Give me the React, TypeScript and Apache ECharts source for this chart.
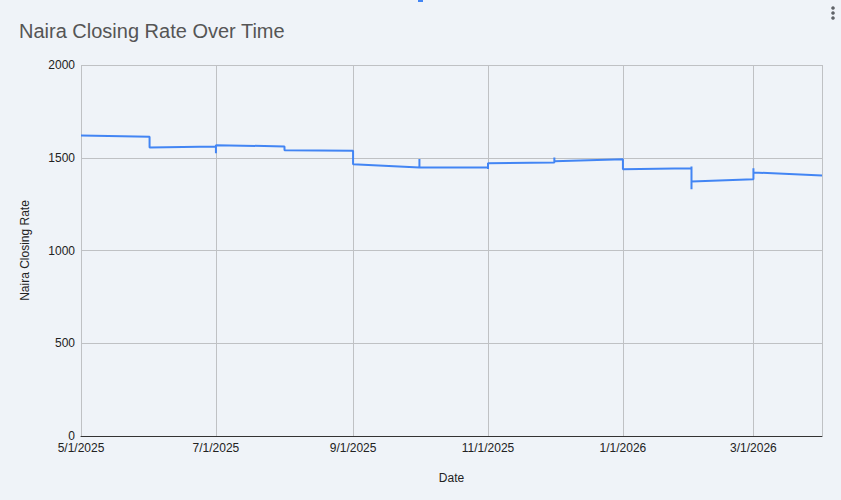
import React, { useEffect, useRef } from "react";
import * as echarts from "echarts";

const titleText = "Naira Closing Rate Over Time";
const xAxisName = "Date";
const yAxisName = "Naira Closing Rate";

// Observations (repeated dates form the vertical steps at month starts)
const dates = [
  "2025-05-01", "2025-06-01", "2025-06-01",
  "2025-07-01", "2025-07-01", "2025-07-01",
  "2025-08-01", "2025-08-01",
  "2025-09-01", "2025-09-01",
  "2025-10-01", "2025-10-01", "2025-10-01",
  "2025-11-01", "2025-11-01", "2025-11-01",
  "2025-12-01", "2025-12-01", "2025-12-01",
  "2026-01-01", "2026-01-01",
  "2026-02-01", "2026-02-01", "2026-02-01", "2026-02-01",
  "2026-03-01", "2026-03-01", "2026-03-01",
  "2026-04-01",
];
const rates = [
  1620, 1613, 1555,
  1561, 1524, 1568,
  1561, 1540,
  1538, 1465,
  1447, 1493, 1447,
  1447, 1440, 1470,
  1474, 1502, 1481,
  1492, 1438,
  1444, 1453, 1330, 1372,
  1384, 1444, 1421,
  1404,
];

const xMin = "2025-05-01";
const xMax = "2026-04-01";
const yMin = 0;
const yMax = 2000;
const yInterval = 500;

const ts = (s: string) => {
  const [y, m, d] = s.split("-").map(Number);
  return new Date(y, m - 1, d).getTime();
};

export default function App() {
  const ref = useRef<HTMLDivElement>(null);
  useEffect(() => {
    if (!ref.current) return;
    const chart = echarts.init(ref.current, undefined, { renderer: "svg" });
    const twoMonths = 75 * 24 * 3600 * 1000;
    chart.setOption({
      animation: false,
      backgroundColor: "#eff3f8",
      textStyle: { fontFamily: "Arial, 'Liberation Sans', sans-serif" },
      title: {
        text: titleText,
        left: 19,
        top: 21,
        padding: 0,
        textStyle: {
          fontSize: 20,
          fontWeight: "normal",
          color: "#555555",
          fontFamily: "Arial, 'Liberation Sans', sans-serif",
        },
      },
      grid: { left: 81, right: 19, top: 65, bottom: 64, containLabel: false },
      xAxis: {
        type: "time",
        min: ts(xMin),
        max: ts(xMax),
        minInterval: twoMonths,
        maxInterval: twoMonths,
        name: xAxisName,
        nameLocation: "middle",
        nameGap: 36,
        nameTextStyle: { fontSize: 12, color: "#222" },
        axisLine: { show: true, lineStyle: { color: "#333", width: 1 } },
        axisTick: { show: false },
        axisLabel: {
          show: true,
          fontSize: 12,
          color: "#222",
          margin: 6,
          hideOverlap: false,
          showMinLabel: true,
          showMaxLabel: false,
          formatter: (v: number) => {
            const d = new Date(v);
            return `${d.getMonth() + 1}/${d.getDate()}/${d.getFullYear()}`;
          },
        },
        splitLine: { show: true, lineStyle: { color: "#bfc1c4", width: 1 } },
        minorSplitLine: { show: false },
      },
      yAxis: {
        type: "value",
        min: yMin,
        max: yMax,
        interval: yInterval,
        name: yAxisName,
        nameLocation: "middle",
        nameGap: 50,
        nameTextStyle: { fontSize: 12, color: "#222" },
        axisLine: { show: false },
        axisTick: { show: false },
        axisLabel: {
          fontSize: 12,
          color: "#222",
          margin: 6,
          formatter: (v: number) => String(v),
        },
        splitLine: { show: true, lineStyle: { color: "#bfc1c4", width: 1 } },
      },
      series: [
        {
          type: "line",
          data: dates.map((d, i) => [ts(d), rates[i]]),
          showSymbol: false,
          symbol: "none",
          lineStyle: { color: "#4285f4", width: 2 },
          itemStyle: { color: "#4285f4" },
        },
      ],
      graphic: [
        { type: "rect", shape: { x: 418, y: 0, width: 5, height: 2 }, style: { fill: "#4285f4" } },
        { type: "circle", shape: { cx: 833, cy: 8, r: 1.8 }, style: { fill: "#5f6368" } },
        { type: "circle", shape: { cx: 833, cy: 13, r: 1.8 }, style: { fill: "#5f6368" } },
        { type: "circle", shape: { cx: 833, cy: 18, r: 1.8 }, style: { fill: "#5f6368" } },
      ],
    });
    return () => chart.dispose();
  }, []);
  return (
    <div
      ref={ref}
      style={{ position: "absolute", left: 0, top: 0, width: 841, height: 500 }}
    />
  );
}
